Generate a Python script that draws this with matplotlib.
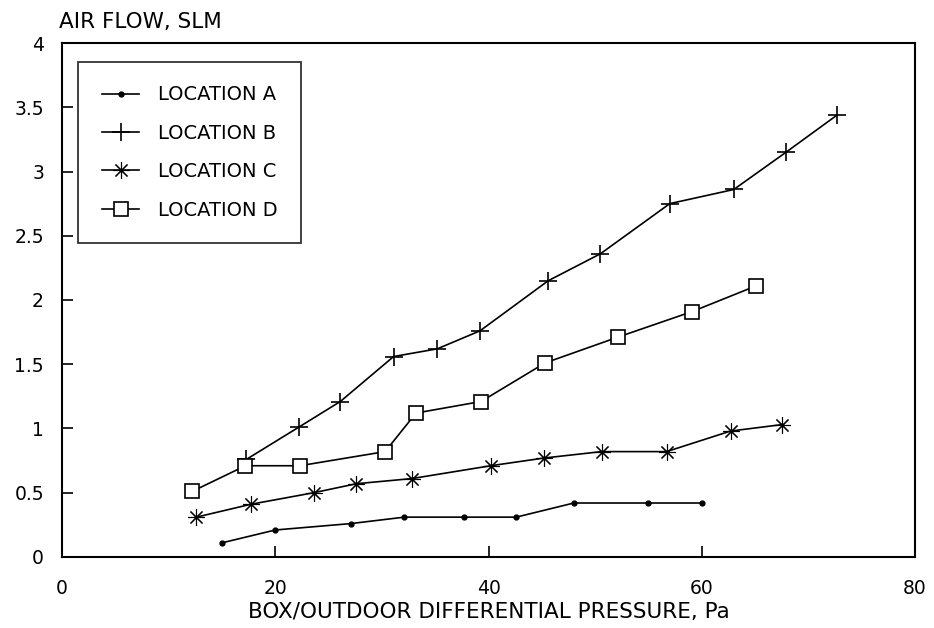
import matplotlib
matplotlib.use("Agg")
import matplotlib.pyplot as plt

plt.rcParams["font.family"] = "DejaVu Sans"

# Location A
xa = [15.0, 20.0, 27.1, 32.1, 37.7, 42.6, 48.0, 55.0, 60.0]
ya = [0.11, 0.21, 0.26, 0.31, 0.31, 0.31, 0.42, 0.42, 0.42]
# Location B
xb = [17.3, 22.2, 26.1, 31.1, 35.2, 39.2, 45.6, 50.5, 57.0, 63.0, 67.9, 72.7]
yb = [0.76, 1.01, 1.21, 1.56, 1.62, 1.76, 2.15, 2.36, 2.75, 2.86, 3.15, 3.44]
# Location C
xc = [12.6, 17.7, 23.6, 27.6, 32.8, 40.2, 45.2, 50.6, 56.7, 62.7, 67.5]
yc = [0.31, 0.41, 0.50, 0.57, 0.61, 0.71, 0.77, 0.82, 0.82, 0.98, 1.03]
# Location D
xd = [12.2, 17.2, 22.3, 30.3, 33.2, 39.3, 45.3, 52.1, 59.1, 65.1]
yd = [0.51, 0.71, 0.71, 0.82, 1.12, 1.21, 1.51, 1.71, 1.91, 2.11]

labels = ["LOCATION A", "LOCATION B", "LOCATION C", "LOCATION D"]

fig = plt.figure(figsize=(9.34, 6.28), dpi=100)
ax = fig.add_axes([0.0664, 0.1131, 0.9133, 0.8184])

lw = 1.2
ax.plot(xa, ya, color="black", lw=lw, marker="o", ms=3.5, label=labels[0])
ax.plot(xb, yb, color="black", lw=lw, marker="+", ms=13, mew=1.2, label=labels[1])
ax.plot(xc, yc, color="black", lw=lw, marker=(8, 2, 0), ms=12, mew=0.8, label=labels[2])
ax.plot(xd, yd, color="black", lw=lw, marker="s", ms=10, mfc="white", mew=1.2, label=labels[3])

ax.set_xlim(0, 80)
ax.set_ylim(0, 4)
ax.set_xticks([0, 20, 40, 60, 80])
ax.set_xticklabels(["0", "20", "40", "60", "80"])
ax.set_yticks([0, 0.5, 1, 1.5, 2, 2.5, 3, 3.5, 4])
ax.set_yticklabels(["0", "0.5", "1", "1.5", "2", "2.5", "3", "3.5", "4"])
ax.tick_params(direction="in", length=8, width=1.2, labelsize=13.5)
ax.tick_params(axis="x", pad=16)
ax.tick_params(axis="y", pad=13)
for s in ax.spines.values():
    s.set_linewidth(1.5)

ax.set_xlabel("BOX/OUTDOOR DIFFERENTIAL PRESSURE, Pa", fontsize=15.5, labelpad=3)
fig.text(0.063, 0.965, "AIR FLOW, SLM", fontsize=15.5, ha="left", va="center")

leg = ax.legend(loc="upper left", bbox_to_anchor=(0.019, 0.963), borderaxespad=0,
                fontsize=14, frameon=True, fancybox=False, edgecolor="black",
                handlelength=1.95, labelspacing=1.0, borderpad=1.2, handletextpad=0.95)
leg.get_frame().set_linewidth(1.3)

fig.savefig("out.png", dpi=100)
